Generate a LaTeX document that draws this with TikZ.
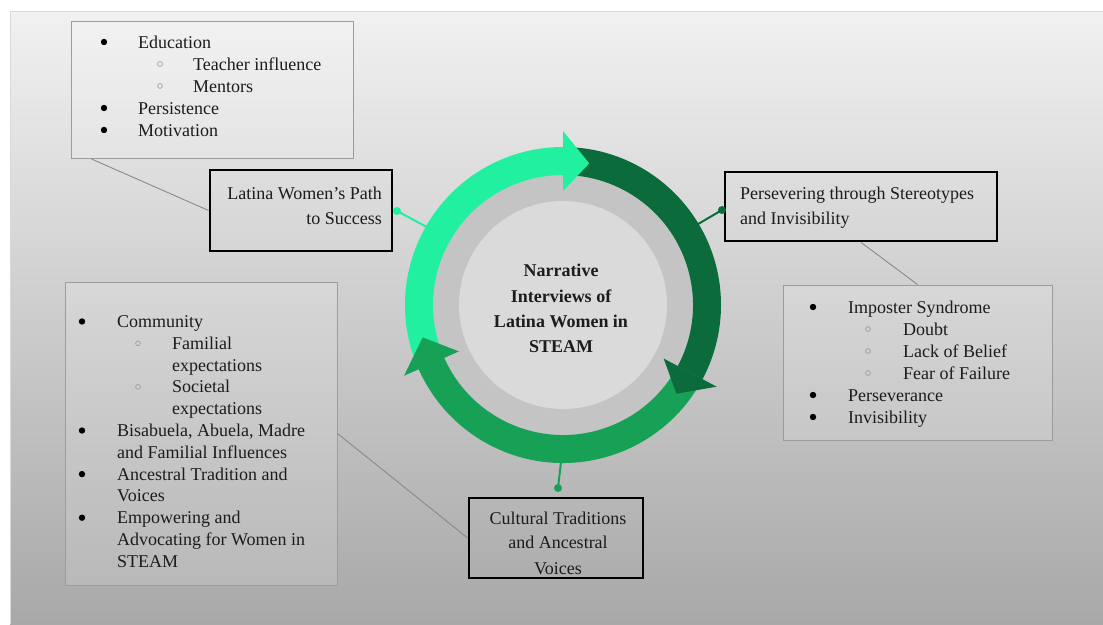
\documentclass[tikz,border=0pt]{standalone}
\usepackage{fontspec}
\setmainfont{Liberation Serif}
\definecolor{bgtop}{HTML}{F1F1F1}
\definecolor{bgbot}{HTML}{A8A8A8}
\definecolor{lgreen}{HTML}{20F0A0}
\definecolor{dgreen}{HTML}{0B6B3A}
\definecolor{mgreen}{HTML}{17A156}
\definecolor{ringgrey}{HTML}{C4C4C4}
\definecolor{discgrey}{HTML}{DADADA}
\definecolor{framegrey}{HTML}{9C9C9C}
\definecolor{conngrey}{HTML}{8A8A8A}
\definecolor{txt}{HTML}{1C1C1C}
\newcommand\bandarc[3]{\fill[#1] (#2:158) arc[start angle=#2, end angle=#3, radius=158] -- (#3:130) arc[start angle=#3, end angle=#2, radius=130] -- cycle;}
\newcommand\bandhead[3]{\fill[#1] (#2:174) -- (#3:144) -- (#2:114) -- cycle;}
\newcommand\fbul[2]{\fill[black] (#1,#2) circle (3.2);}
\newcommand\hbul[2]{\draw[draw=framegrey, line width=0.7pt] (#1,#2) circle (2.4);}
\tikzset{
  listbox/.style={draw=framegrey, line width=1pt, fill=white, fill opacity=0.15, inner sep=0pt},
  titlebox/.style={draw=black, line width=2.8pt, inner sep=0pt},
  conn/.style={draw=conngrey, line width=0.9pt},
  item/.style={anchor=base west, inner sep=0pt, text=txt, font=\fontsize{18}{22}\selectfont},
  ttl/.style={inner sep=0pt, text=txt, font=\fontsize{18}{22}\selectfont},
  ctr/.style={anchor=base, inner sep=0pt, text=txt, font=\fontsize{18}{22}\selectfont\bfseries},
}
\begin{document}
\begin{tikzpicture}[x=1pt,y=1pt]
\useasboundingbox (0,0) rectangle (1103,-624);
\fill[white] (0,0) rectangle (1103,-624);
\shade[top color=bgtop, bottom color=bgbot] (10,-11) rectangle (1103,-624);
\draw[draw=black!15, line width=1pt] (10,-624) -- (10,-11) -- (1103,-11);
\begin{scope}[yscale=-1]
% boxes
\node[listbox, minimum width=282pt, minimum height=137pt] (tlbox) at (212,90) {};
\node[titlebox, minimum width=182pt, minimum height=81pt] (latina) at (301,210.5) {};
\node[titlebox, minimum width=272pt, minimum height=69pt] (ptitle) at (861,206.5) {};
\node[listbox, minimum width=269pt, minimum height=155pt] (plist) at (917.5,362.5) {};
\node[listbox, minimum width=272pt, minimum height=303pt] (bllist) at (201,433.5) {};
\node[titlebox, minimum width=174pt, minimum height=80pt] (ctitle) at (556,538) {};
% grey connectors
\draw[conn] ([xshift=21pt]tlbox.south west) -- (latina.west);
\draw[conn] (ptitle.south) -- (plist.north);
\draw[conn] (bllist.east) -- (ctitle.west);
% green connectors
\coordinate (dl) at (397,211);
\coordinate (dr) at (722,210);
\coordinate (db) at (558,488);
\begin{scope}[shift={(563,305)}]
\coordinate (al) at (210:140);
\coordinate (ar) at (329:140);
\coordinate (ab) at (90:140);
\end{scope}
\draw[lgreen, line width=2pt] (dl) -- (al);
\draw[dgreen, line width=2pt] (dr) -- (ar);
\draw[mgreen, line width=2pt] (db) -- (ab);
\fill[lgreen] (dl) circle (4);
\fill[dgreen] (dr) circle (4);
\fill[mgreen] (db) circle (4);
% cycle
\begin{scope}[shift={(563,305)}]
\fill[ringgrey] (0,0) circle (131);
\fill[discgrey] (0,0) circle (104);
\bandarc{lgreen}{156}{271}
\bandarc{dgreen}{270}{389}
\bandarc{mgreen}{28}{157}
\bandhead{lgreen}{270}{280.5}
\bandhead{dgreen}{388}{398}
\bandhead{mgreen}{156}{167}
\end{scope}
\node[ctr] (c1) at (561,276) {Narrative};
\node[ctr] (c2) at (561,302) {Interviews of};
\node[ctr] (c3) at (561,327.5) {Latina Women in};
\node[ctr] (c4) at (561,352) {STEAM};
% title texts
\node[ttl, anchor=base east] (la1) at (382,199) {Latina Women's Path};
\node[ttl, anchor=base east] (la2) at (382,224) {to Success};
\node[ttl, anchor=base west] (pr1) at (740,199) {Persevering through Stereotypes};
\node[ttl, anchor=base west] (pr2) at (740,224) {and Invisibility};
\node[ttl, anchor=base] (ct1) at (558,524) {Cultural Traditions};
\node[ttl, anchor=base] (ct2) at (558,548) {and Ancestral};
\node[ttl, anchor=base] (ct3) at (558,574) {Voices};
% top-left list
\fbul{104}{42}
\node[item] (e1) at (138,48) {Education};
\hbul{160}{64}
\node[item] (e2) at (193,70) {Teacher influence};
\hbul{160}{86}
\node[item] (e3) at (193,92) {Mentors};
\fbul{104}{108}
\node[item] (e4) at (138,114) {Persistence};
\fbul{104}{130}
\node[item] (e5) at (138,136) {Motivation};
% right list
\fbul{813}{307}
\node[item] (r1) at (848,313) {Imposter Syndrome};
\hbul{868}{329}
\node[item] (r2) at (903,335) {Doubt};
\hbul{868}{351}
\node[item] (r3) at (903,357) {Lack of Belief};
\hbul{868}{373}
\node[item] (r4) at (903,379) {Fear of Failure};
\fbul{813}{395}
\node[item] (r5) at (848,401) {Perseverance};
\fbul{813}{417}
\node[item] (r6) at (848,423) {Invisibility};
% bottom-left list
\fbul{82}{321.5}
\node[item] (b1) at (117,327.5) {Community};
\hbul{138}{343.3}
\node[item] (b2) at (172,349.3) {Familial};
\node[item] (b3) at (172,371.1) {expectations};
\hbul{138}{386.9}
\node[item] (b4) at (172,392.9) {Societal};
\node[item] (b5) at (172,414.7) {expectations};
\fbul{82}{430.5}
\node[item] (b6) at (117,436.5) {Bisabuela, Abuela, Madre};
\node[item] (b7) at (117,458.3) {and Familial Influences};
\fbul{82}{474.1}
\node[item] (b8) at (117,480.1) {Ancestral Tradition and};
\node[item] (b9) at (117,501.9) {Voices};
\fbul{82}{517.7}
\node[item] (b10) at (117,523.7) {Empowering and};
\node[item] (b11) at (117,545.5) {Advocating for Women in};
\node[item] (b12) at (117,567.3) {STEAM};
\end{scope}
\end{tikzpicture}
\end{document}
